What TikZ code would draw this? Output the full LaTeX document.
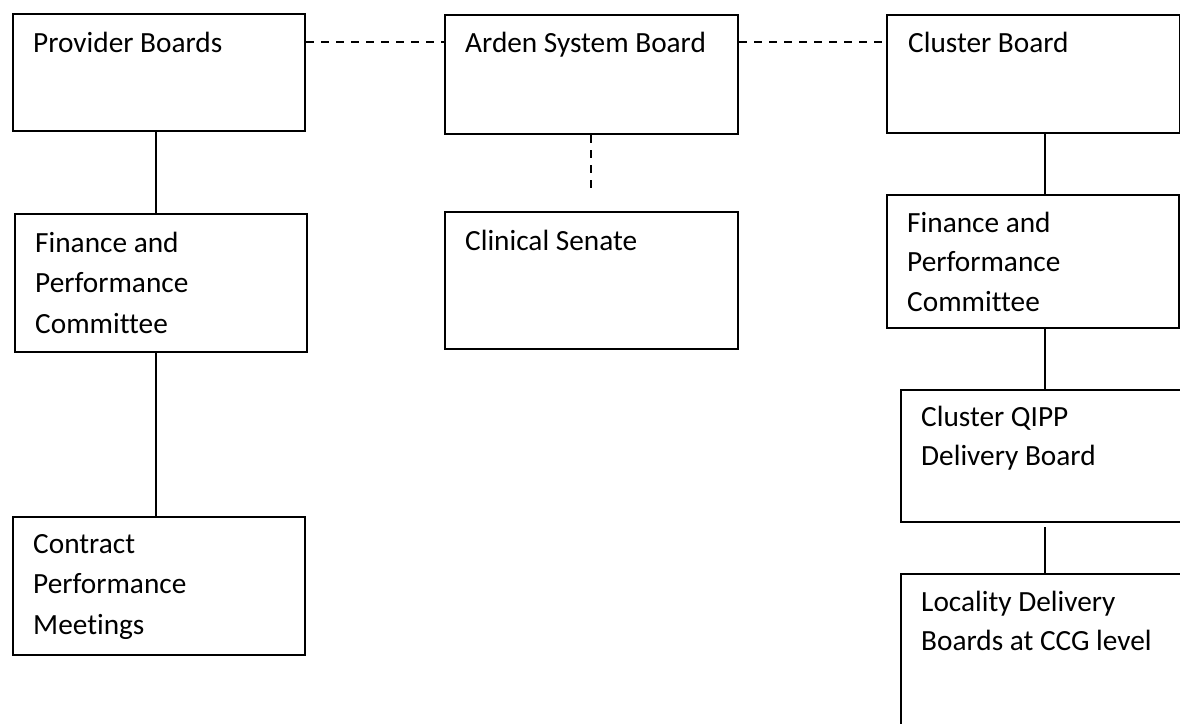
\documentclass[tikz,border=0pt]{standalone}
\usepackage{fontspec}
\setmainfont[Ligatures=NoCommon]{Carlito}
\usetikzlibrary{calc}
\begin{document}
\begin{tikzpicture}[x=1pt,y=-1pt,
  board/.style={draw, line width=2pt, rectangle, inner sep=0pt, anchor=north west},
  label text/.style={anchor=base west, inner sep=0pt, align=left,
    font=\fontsize{29.3}{40.2}\selectfont},
  link/.style={line width=2pt},
  weak link/.style={line width=1.6pt, dash pattern=on 8pt off 7pt}]
\useasboundingbox (0,0) rectangle (1180,723);
\clip (0,0) rectangle (1180,723);

% boxes
\node[board, minimum width=292pt, minimum height=117pt] (prov) at (12,13) {};
\node[board, minimum width=293pt, minimum height=119pt] (arden) at (444,14) {};
\node[board, minimum width=293pt, minimum height=118pt] (cluster) at (886,14) {};
\node[board, minimum width=292pt, minimum height=138pt] (lfin) at (14,213) {};
\node[board, minimum width=293pt, minimum height=137pt] (senate) at (444,211) {};
\node[board, minimum width=292pt, minimum height=138pt] (contract) at (12,516) {};
\node[board, minimum width=292pt, minimum height=133pt] (rfin) at (886,194) {};
\node[board, minimum width=320pt, minimum height=132pt] (qipp) at (900,389) {};
\node[board, minimum width=320pt, minimum height=200pt] (locality) at (900,573) {};

% texts (anchored at the baseline of their last line)
\node[label text] at ($(prov.north west)+(21,39)$) {Provider Boards};
\node[label text] at ($(arden.north west)+(21,38)$) {Arden System Board};
\node[label text] at ($(cluster.north west)+(22,38)$) {Cluster Board};
\node[label text] at ($(lfin.north west)+(21,120)$) {Finance and\\Performance\\Committee};
\node[label text] at ($(senate.north west)+(21,39)$) {Clinical Senate};
\node[label text] at ($(contract.north west)+(21,118)$) {Contract\\Performance\\Meetings};
\node[label text, font=\fontsize{29.3}{39.3}\selectfont] at ($(rfin.north west)+(21,117)$) {Finance and\\Performance\\Committee};
\node[label text, font=\fontsize{29.3}{39}\selectfont] at ($(qipp.north west)+(21,76)$) {Cluster QIPP\\Delivery Board};
\node[label text, font=\fontsize{29.3}{39}\selectfont] at ($(locality.north west)+(21,77)$) {Locality Delivery\\Boards at CCG level};

% connector guides
\coordinate (lx) at (156,0);
\coordinate (rx) at (1045,0);
\coordinate (hy) at (0,42);
\coordinate (senateend) at (591,193);
\coordinate (qippend) at (1045,527);

% solid links
\draw[link] (prov.south -| lx) -- (lfin.north -| lx);
\draw[link] (lfin.south -| lx) -- (contract.north -| lx);
\draw[link] (cluster.south -| rx) -- (rfin.north -| rx);
\draw[link] (rfin.south -| rx) -- (qipp.north -| rx);
\draw[link] (qippend) -- (locality.north -| rx);

% dashed links
\draw[weak link] (prov.east |- hy) -- (arden.west |- hy);
\draw[weak link] (arden.east |- hy) -- (cluster.west |- hy);
\draw[weak link] (arden.south -| senateend) -- (senateend);
\end{tikzpicture}
\end{document}
